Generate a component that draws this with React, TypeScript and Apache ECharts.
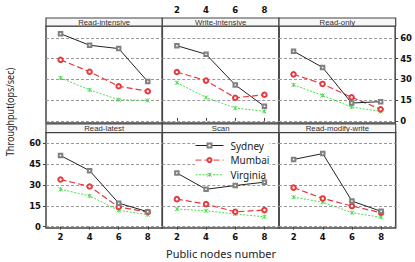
import React, { useEffect, useRef } from 'react';
import * as echarts from 'echarts';

// ---------- data ----------
const nodeCounts = [2, 4, 6, 8];
const yTickValues = [0, 15, 30, 45, 60];
const panelTitles = ['Read-intensive', 'Write-intensive', 'Read-only', 'Read-latest', 'Scan', 'Read-modify-write'];
const seriesNames = ['Sydney', 'Mumbai', 'Virginia'];

// one row per panel (same order as panelTitles), values at nodeCounts
const sydney = [
  [62.9, 54.6, 52.2, 28.4],
  [54.3, 48.1, 26.0, 10.5],
  [50.3, 38.6, 12.9, 13.9],
  [51.2, 40.3, 16.9, 10.7],
  [38.6, 26.9, 29.6, 32.0],
  [48.4, 52.6, 18.4, 11.0],
];
const mumbai = [
  [44.1, 35.5, 25.0, 21.4],
  [35.3, 29.1, 16.7, 18.9],
  [33.6, 26.7, 17.1, 8.4],
  [33.9, 28.9, 14.1, 10.5],
  [19.8, 16.2, 10.7, 11.9],
  [28.1, 20.3, 14.8, 10.0],
];
const virginia = [
  [31.0, 22.4, 15.3, 14.8],
  [27.6, 16.9, 9.3, 6.9],
  [26.0, 18.4, 10.0, 6.9],
  [26.9, 22.1, 11.7, 8.6],
  [12.6, 11.4, 9.1, 7.1],
  [21.2, 17.6, 10.0, 6.7],
];
const allSeries = [sydney, mumbai, virginia];

// ---------- layout / style ----------
const COLS = [
  { left: 46, width: 116.3 },
  { left: 162.3, width: 116.7 },
  { left: 279, width: 116.7 },
];
const ROWS = [
  { top: 26, height: 97, stripTop: 18, stripH: 8, min: -1.5, max: 68.5 },
  { top: 132.5, height: 95.5, stripTop: 124, stripH: 8.5, min: -1, max: 67.8 },
];
const FRAME = '#444444';
const GRIDLINE = '#9a9a9a';
const TICK_FONT = { fontFamily: 'DejaVu Sans', fontWeight: 'bold' as const, fontSize: 8.5, color: '#111' };

const STYLES = [
  { line: '#222222', marker: '#808080', type: 'solid' as any, symbol: 'emptyRect', size: 3.5, width: 1 },
  { line: '#e8383d', marker: '#e8383d', type: [6, 3] as any, symbol: 'emptyCircle', size: 4.5, width: 1.2 },
  { line: '#4ddd4d', marker: '#4ddd4d', type: [2, 1.5] as any, symbol: 'path://M0,0L10,10M10,0L0,10M5,0L5,10', size: 4, width: 1 },
];

function buildOption() {
  const grid: any[] = [];
  const xAxis: any[] = [];
  const yAxis: any[] = [];
  const series: any[] = [];
  const graphic: any[] = [];

  for (let p = 0; p < 6; p++) {
    const r = Math.floor(p / 3);
    const c = p % 3;
    const row = ROWS[r];
    const col = COLS[c];
    grid.push({
      left: col.left, top: row.top, width: col.width, height: row.height,
      show: true, borderColor: FRAME, borderWidth: 1.5, backgroundColor: 'transparent',
    });

    const showTopX = p === 1;
    const showBottomX = r === 1;
    xAxis.push({
      type: 'value', gridIndex: p, min: 1, max: 9,
      position: showTopX ? 'top' : 'bottom',
      offset: showTopX ? row.top - row.stripTop : 0,
      axisLine: { show: false },
      splitLine: { show: false },
      axisTick: {
        show: showTopX || showBottomX, inside: false, length: 3,
        customValues: nodeCounts, lineStyle: { color: FRAME, width: 1 },
      },
      axisLabel: {
        show: showTopX || showBottomX, customValues: nodeCounts, margin: 4, ...TICK_FONT,
      },
    });

    const showRightY = p === 2;
    const showLeftY = p === 3;
    yAxis.push({
      type: 'value', gridIndex: p, min: row.min, max: row.max,
      position: showRightY ? 'right' : 'left',
      axisLine: { show: false },
      axisTick: {
        show: showRightY || showLeftY, inside: false, length: 3,
        customValues: yTickValues, lineStyle: { color: FRAME, width: 1 },
      },
      axisLabel: {
        show: showRightY || showLeftY, customValues: yTickValues, margin: 5, ...TICK_FONT,
      },
      splitLine: { show: true, lineStyle: { color: GRIDLINE, type: [3, 2], width: 1 } },
    });

    for (let s = 0; s < 3; s++) {
      const st = STYLES[s];
      series.push({
        type: 'line', name: seriesNames[s], xAxisIndex: p, yAxisIndex: p,
        data: nodeCounts.map((x, i) => [x, allSeries[s][p][i]]),
        symbol: st.symbol, symbolSize: st.size, showSymbol: true,
        lineStyle: { color: st.line, type: st.type, width: st.width },
        itemStyle: { color: st.marker, borderColor: st.marker, borderWidth: 1 },
        emphasis: { disabled: true },
        z: 3 - s + 2,
      });
    }

    // title strip
    graphic.push({
      type: 'rect',
      shape: { x: col.left, y: row.stripTop, width: col.width, height: row.stripH },
      style: { fill: '#f7f7f7', stroke: FRAME, lineWidth: 1.2 },
      z: 10,
    });
    graphic.push({
      type: 'text',
      x: col.left + col.width / 2, y: row.stripTop + row.stripH / 2 + 0.5,
      style: {
        text: panelTitles[p], align: 'center', verticalAlign: 'middle',
        fontSize: 7.8, fontFamily: 'Liberation Sans', fill: '#333',
      },
      z: 11,
    });
  }

  graphic.push({
    type: 'text', x: 10, y: 112, rotation: Math.PI / 2, scaleX: 0.82,
    style: {
      text: 'Throughput(ops/sec)', align: 'center', verticalAlign: 'middle',
      fontSize: 11, fontFamily: 'Noto Sans', fill: '#222',
    },
  });
  graphic.push({
    type: 'text', x: 221, y: 253,
    style: {
      text: 'Public nodes number', align: 'center', verticalAlign: 'middle',
      fontSize: 11, fontFamily: 'Noto Sans', fill: '#222',
    },
  });

  return {
    animation: false,
    backgroundColor: '#ffffff',
    grid, xAxis, yAxis, series, graphic,
    legend: {
      data: seriesNames, orient: 'vertical', left: 195, top: 140.5,
      itemWidth: 28, itemHeight: 5, itemGap: 4.6,
      lineStyle: { width: 1 },
      itemStyle: { borderWidth: 1 },
      textStyle: { fontSize: 10, fontFamily: 'Noto Sans', color: '#222', padding: [0, 0, 0, 2] },
      backgroundColor: '#fff',
      padding: 0,
    },
  };
}

export default function App() {
  const ref = useRef<HTMLDivElement>(null);
  useEffect(() => {
    if (!ref.current) return;
    const chart = echarts.init(ref.current, undefined, { renderer: 'svg' });
    chart.setOption(buildOption() as any);
    return () => chart.dispose();
  }, []);
  return (
    <div
      ref={ref}
      style={{ position: 'absolute', left: 0, top: 0, width: 415, height: 262, background: '#fff' }}
    />
  );
}
